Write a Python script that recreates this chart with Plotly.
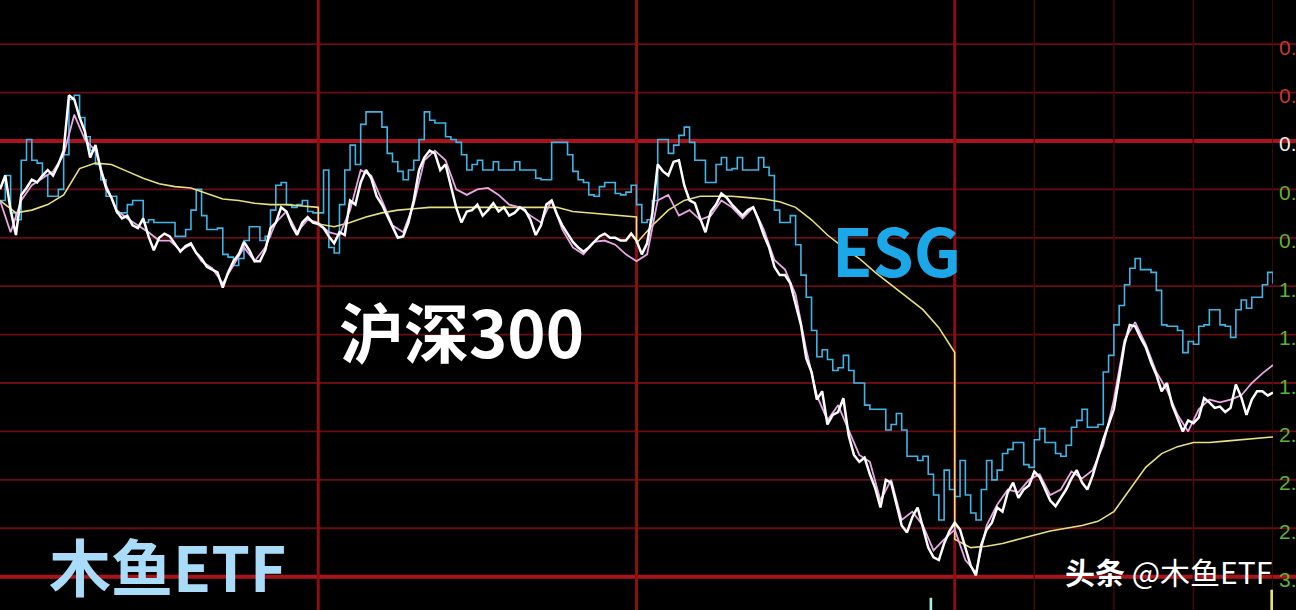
import plotly.graph_objects as go

# ---------------- data (percent change, sampled every 4 / 8 / 12 minutes, 4 trading days of 240 min) -------------
hs300_day1 = [-0.35, -0.25, -0.50, -0.68, -0.39, -0.34, -0.28, -0.30, -0.25, -0.21,
              -0.25, -0.17, -0.07, 0.33, 0.30, 0.17, 0.07, -0.12, -0.03, -0.21,
              -0.34, -0.41, -0.51, -0.56, -0.54, -0.61, -0.63, -0.56, -0.69, -0.79,
              -0.70, -0.67, -0.69, -0.75, -0.80, -0.76, -0.74, -0.81, -0.85, -0.91,
              -0.93, -0.95, -1.06, -0.95, -0.87, -0.82, -0.73, -0.79, -0.87, -0.87,
              -0.79, -0.63, -0.59, -0.48, -0.51, -0.61, -0.68, -0.59, -0.55, -0.59]
hs300_day2 = [-0.60, -0.63, -0.69, -0.74, -0.66, -0.68, -0.43, -0.46, -0.30, -0.21,
              -0.27, -0.40, -0.46, -0.54, -0.63, -0.70, -0.69, -0.59, -0.43, -0.21,
              -0.12, -0.07, -0.09, -0.21, -0.17, -0.32, -0.48, -0.59, -0.51, -0.50,
              -0.46, -0.54, -0.50, -0.45, -0.51, -0.48, -0.54, -0.52, -0.48, -0.50,
              -0.57, -0.68, -0.61, -0.46, -0.43, -0.53, -0.61, -0.67, -0.73, -0.77,
              -0.80, -0.77, -0.73, -0.69, -0.67, -0.70, -0.70, -0.72, -0.72, -0.67]
hs300_day3 = [-0.72, -0.82, -0.74, -0.52, -0.17, -0.22, -0.25, -0.15, -0.14, -0.32,
              -0.43, -0.45, -0.56, -0.66, -0.51, -0.46, -0.38, -0.41, -0.46, -0.50,
              -0.54, -0.50, -0.48, -0.57, -0.68, -0.77, -0.91, -0.97, -0.97, -1.03,
              -1.17, -1.33, -1.57, -1.67, -1.87, -1.81, -2.05, -1.98, -1.96, -1.86,
              -2.13, -2.27, -2.32, -2.29, -2.41, -2.51, -2.65, -2.45, -2.47, -2.63,
              -2.78, -2.83, -2.72, -2.65, -2.80, -2.94, -3.01, -3.03, -2.91, -2.82]
hs300_day4 = [-2.76, -2.81, -2.94, -3.07, -3.14, -2.92, -2.81, -2.76, -2.65, -2.68,
              -2.54, -2.47, -2.58, -2.52, -2.49, -2.39, -2.43, -2.51, -2.60, -2.64,
              -2.58, -2.52, -2.44, -2.38, -2.47, -2.52, -2.42, -2.28, -2.16, -2.05,
              -1.94, -1.71, -1.47, -1.33, -1.34, -1.42, -1.49, -1.60, -1.69, -1.81,
              -1.75, -1.91, -2.00, -2.10, -2.02, -2.04, -2.00, -1.86, -1.89, -1.93,
              -1.92, -1.96, -1.93, -1.76, -1.85, -1.98, -1.87, -1.81, -1.81, -1.84,
              -1.82]

esg_day1 = [-0.43, -0.25, -0.52, -0.57, -0.14, 0.01, -0.14, -0.16, -0.25, -0.40,
            -0.40, -0.35, -0.10, 0.30, 0.33, 0.17, 0.03, -0.07, -0.17, -0.28,
            -0.40, -0.40, -0.52, -0.52, -0.46, -0.43, -0.43, -0.59, -0.57, -0.59,
            -0.59, -0.59, -0.59, -0.69, -0.69, -0.64, -0.50, -0.35, -0.54, -0.64,
            -0.64, -0.63, -0.82, -0.84, -0.90, -0.85, -0.72, -0.62, -0.62, -0.72,
            -0.69, -0.50, -0.32, -0.30, -0.46, -0.48, -0.46, -0.43, -0.51, -0.52]
esg_day2 = [-0.52, -0.21, -0.77, -0.81, -0.46, -0.21, -0.03, -0.17, 0.12, 0.21,
            0.21, 0.21, 0.10, -0.09, -0.15, -0.22, -0.28, -0.21, -0.14, 0.01,
            0.21, 0.15, 0.13, 0.13, 0.03, 0.01, -0.01, -0.10, -0.21, -0.17,
            -0.14, -0.21, -0.21, -0.15, -0.21, -0.21, -0.21, -0.15, -0.21, -0.21,
            -0.21, -0.27, -0.28, -0.28, -0.01, -0.01, -0.01, -0.10, -0.22, -0.28,
            -0.30, -0.39, -0.40, -0.33, -0.30, -0.30, -0.38, -0.39, -0.37, -0.32]
esg_day3 = [-0.46, -0.59, -0.57, -0.43, 0.01, 0.01, -0.09, -0.03, 0.04, 0.10,
            -0.01, -0.14, -0.14, -0.30, -0.30, -0.17, -0.12, -0.21, -0.20, -0.12,
            -0.21, -0.21, -0.21, -0.12, -0.19, -0.25, -0.50, -0.59, -0.59, -0.54,
            -0.75, -0.97, -1.13, -1.37, -1.56, -1.51, -1.58, -1.66, -1.64, -1.55,
            -1.66, -1.75, -1.75, -1.91, -1.94, -1.94, -1.94, -2.09, -2.05, -1.97,
            -2.09, -2.28, -2.28, -2.31, -2.28, -2.41, -2.56, -2.74, -2.38, -2.52]
esg_day4 = [-2.57, -2.31, -2.56, -2.69, -2.74, -2.52, -2.31, -2.45, -2.38, -2.26,
            -2.23, -2.18, -2.18, -2.34, -2.36, -2.16, -2.08, -2.18, -2.18, -2.26,
            -2.28, -2.20, -2.07, -2.02, -1.94, -2.07, -2.07, -2.05, -1.67, -1.55,
            -1.33, -1.19, -1.04, -0.92, -0.85, -0.93, -0.93, -0.95, -1.08, -1.33,
            -1.34, -1.34, -1.37, -1.53, -1.45, -1.47, -1.34, -1.33, -1.22, -1.22,
            -1.33, -1.34, -1.42, -1.22, -1.15, -1.21, -1.13, -1.13, -1.04, -0.95,
            -1.03]

pink_day1 = [-0.43, -0.66, -0.43, -0.32, -0.27, -0.22, -0.10, 0.19, 0.01, -0.07,
             -0.32, -0.50, -0.56, -0.61, -0.66, -0.72, -0.72, -0.79, -0.75, -0.87,
             -0.92, -1.03, -0.90, -0.77, -0.87, -0.77, -0.59, -0.51, -0.66, -0.57]
pink_day2 = [-0.59, -0.66, -0.68, -0.50, -0.21, -0.25, -0.43, -0.61, -0.66, -0.46,
             -0.14, -0.07, -0.14, -0.35, -0.39, -0.35, -0.34, -0.39, -0.46, -0.48,
             -0.54, -0.59, -0.43, -0.64, -0.77, -0.82, -0.73, -0.72, -0.75, -0.82]
pink_day3 = [-0.87, -0.82, -0.43, -0.39, -0.54, -0.50, -0.57, -0.54, -0.43, -0.48,
             -0.56, -0.48, -0.64, -0.86, -0.93, -1.11, -1.51, -1.84, -2.02, -1.91,
             -2.09, -2.27, -2.32, -2.60, -2.45, -2.74, -2.68, -2.78, -2.96, -2.88]
pink_day4 = [-2.81, -3.03, -3.12, -2.78, -2.63, -2.52, -2.54, -2.45, -2.41, -2.56,
             -2.52, -2.39, -2.44, -2.38, -2.20, -1.87, -1.44, -1.31, -1.47, -1.67,
             -1.80, -1.98, -2.10, -1.94, -1.87, -1.89, -1.87, -1.84, -1.75, -1.68,
             -1.62]

avg_day1 = [-0.43, -0.52, -0.50, -0.46, -0.39, -0.20, -0.16, -0.17, -0.22, -0.27, -0.31,
            -0.33, -0.34, -0.38, -0.42, -0.43, -0.45, -0.46, -0.46, -0.47, -0.48]
avg_day2 = [-0.60, -0.62, -0.59, -0.55, -0.52, -0.50, -0.49, -0.48, -0.48, -0.48, -0.48,
            -0.48, -0.48, -0.48, -0.48, -0.48, -0.51, -0.52, -0.53, -0.54, -0.55]
avg_day3 = [-0.74, -0.61, -0.50, -0.43, -0.40, -0.40, -0.40, -0.41, -0.42, -0.44, -0.48,
            -0.57, -0.68, -0.77, -0.85, -0.95, -1.04, -1.13, -1.22, -1.35, -1.53]
avg_day4 = [-2.88, -2.94, -2.93, -2.91, -2.88, -2.85, -2.82, -2.80, -2.78, -2.75, -2.68,
            -2.52, -2.36, -2.26, -2.21, -2.18, -2.18, -2.17, -2.16, -2.15, -2.14]

volume_minutes = [702, 959]
volume_values = [0.6, 1.0]
volume_colors = ["#a8ece4", "#e8e070"]

day_length = 240
day_boundaries = [240, 480, 720]
hour_lines = [780, 840, 900]
grid_step = 0.35
grid_k = list(range(-3, 10))
bright_k = [0, 9]
# right-hand scale labels as they are visible in the (cropped) screenshot, for k = -2 .. 9
scale_k = list(range(-2, 10))
scale_labels = ["0.", "0.", "0.", "0.", "0.", "1.", "1.", "1.", "2.", "2.", "2.", "3."]


def build(days, step):
    xs, ys = [], []
    for d, vals in enumerate(days):
        for i, v in enumerate(vals):
            xs.append(d * day_length + i * step)
            ys.append(v)
    return xs, ys


wx, wy = build([hs300_day1, hs300_day2, hs300_day3, hs300_day4], 4)
cx, cy = build([esg_day1, esg_day2, esg_day3, esg_day4], 4)
px, py = build([pink_day1, pink_day2, pink_day3, pink_day4], 8)
ax_, ay = build([avg_day1, avg_day2, avg_day3, avg_day4], 12)

fig = go.Figure()
fig.add_trace(go.Bar(x=volume_minutes, y=volume_values, marker_color=volume_colors,
                     marker_line_width=0, width=2, yaxis="y2", hoverinfo="skip"))
fig.add_trace(go.Scatter(x=cx, y=cy, mode="lines", line=dict(color="#3fb4e6", width=1.6, shape="hv")))
fig.add_trace(go.Scatter(x=ax_, y=ay, mode="lines", line=dict(color="#e8e07c", width=1.6)))
fig.add_trace(go.Scatter(x=px, y=py, mode="lines", line=dict(color="#eaa6e8", width=1.8)))
fig.add_trace(go.Scatter(x=wx, y=wy, mode="lines", line=dict(color="#ffffff", width=2.5)))

shapes = []
for k in grid_k:
    level = -k * grid_step
    bright = k in bright_k
    shapes.append(dict(type="line", xref="paper", yref="y", x0=0, x1=1, y0=level, y1=level,
                       line=dict(color="#a8141a" if bright else "#6a0c10", width=4 if bright else 1.8),
                       layer="below"))
for xv in day_boundaries:
    shapes.append(dict(type="line", xref="x", yref="paper", x0=xv, x1=xv, y0=0, y1=1,
                       line=dict(color="#8a0e12", width=3), layer="below"))
for xv in hour_lines:
    shapes.append(dict(type="line", xref="x", yref="paper", x0=xv, x1=xv, y0=0, y1=1,
                       line=dict(color="#4a0809", width=1.5), layer="below"))
shapes.append(dict(type="line", xref="x", yref="paper", x0=960, x1=960, y0=0, y1=1,
                   line=dict(color="#4a0809", width=1.5), layer="below"))

annotations = []
for k, lab in zip(scale_k, scale_labels):
    level = -k * grid_step
    if k < 0:
        col = "#c8352e"
    elif k == 0:
        col = "#eeeeee"
    else:
        col = "#5db236"
    annotations.append(dict(xref="paper", yref="y", x=1277 / 1296, y=level, xanchor="left",
                            yanchor="middle", yshift=-3, showarrow=False, text=lab,
                            font=dict(family="Liberation Sans", size=21, color=col)))

cjk = "Noto Sans CJK SC"
annotations += [
    dict(xref="paper", yref="paper", x=896 / 1296, y=(610 - 248) / 610, text="<b>ESG</b>",
         xanchor="center", yanchor="middle", showarrow=False,
         font=dict(family=cjk, size=66, color="#1ca8e8")),
    dict(xref="paper", yref="paper", x=461 / 1296, y=(610 - 330) / 610, text="<b>沪深300</b>",
         xanchor="center", yanchor="middle", showarrow=False,
         font=dict(family=cjk, size=65, color="#ffffff")),
    dict(xref="paper", yref="paper", x=167 / 1296, y=(610 - 565) / 610, text="<b>木鱼ETF</b>",
         xanchor="center", yanchor="middle", showarrow=False,
         font=dict(family=cjk, size=62, color="#a8dcf8")),
    dict(xref="paper", yref="paper", x=1168 / 1296, y=(610 - 571) / 610,
         text="<b>头条</b> @木鱼ETF", xanchor="center", yanchor="middle", showarrow=False,
         font=dict(family=cjk, size=30, color="#ffffff")),
]

fig.update_layout(
    width=1296, height=610,
    margin=dict(l=0, r=0, t=0, b=0),
    paper_bgcolor="#000000", plot_bgcolor="#000000",
    showlegend=False,
    hovermode=False,
    xaxis=dict(range=[0, 960], domain=[0, 1273 / 1296], visible=False, showgrid=False, zeroline=False),
    yaxis=dict(range=[-3.391, 1.019], visible=False, showgrid=False, zeroline=False),
    yaxis2=dict(range=[0, 30], overlaying="y", visible=False, showgrid=False, zeroline=False),
    shapes=shapes,
    annotations=annotations,
)

fig.write_html("out.html",
               config={"displayModeBar": False, "staticPlot": True},
               post_script="document.body.style.margin='0';document.body.style.background='#000';"
                           "document.body.style.overflow='hidden';")
